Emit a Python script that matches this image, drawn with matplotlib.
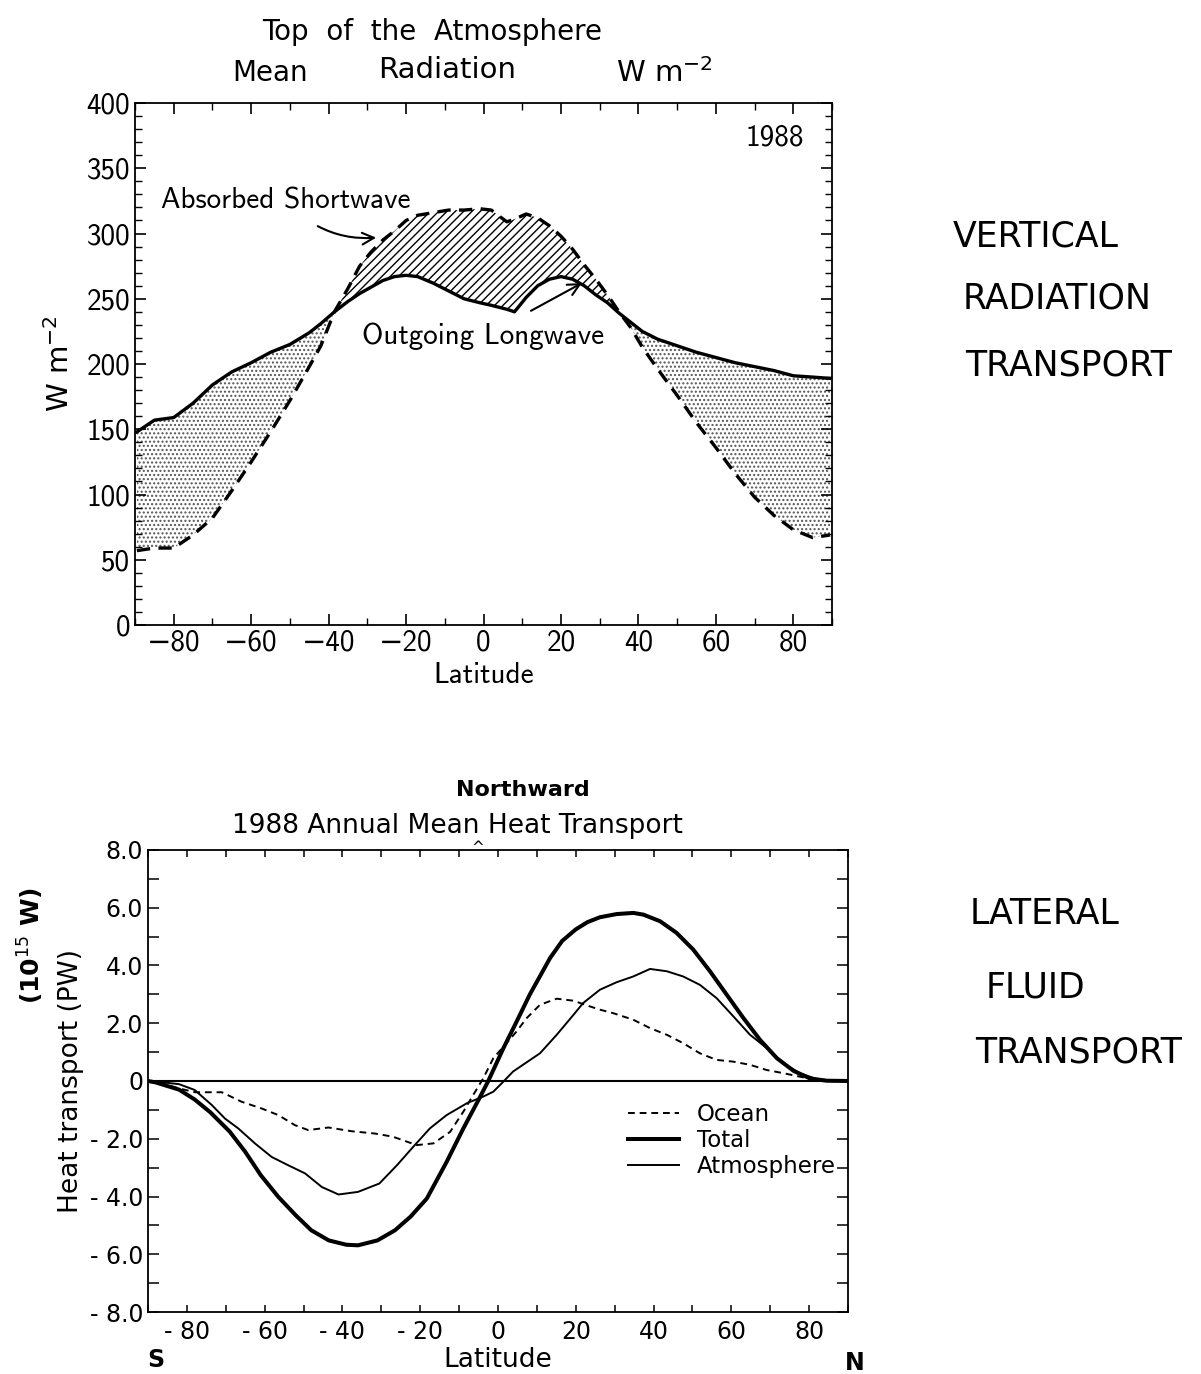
import numpy as np
import matplotlib.pyplot as plt
from matplotlib.ticker import MultipleLocator

# --- Top panel: TOA radiation (W m-2), 1988 ---
lat_top = [-89.5, -85, -80, -75, -70, -65, -60, -55, -50, -45, -42, -38.5, -35,
           -32, -29, -26, -23, -20, -17, -13, -9, -5, -1, 2, 6, 8, 11, 14, 17,
           20, 23, 26, 29, 32, 35, 38, 41, 45, 50, 55, 60, 65, 70, 75, 80, 85, 89.5]
olr = [148, 157, 159, 170, 184, 194, 201, 209, 215, 224, 231, 240, 248,
       254, 259, 264, 267, 268, 267, 262, 256, 250, 247, 245, 242, 240, 251, 260,
       265, 267, 265, 260, 253, 247, 239, 232, 225, 219, 214, 209, 205, 201, 198,
       195, 191, 190, 189]
asr = [57, 59, 59, 69, 82, 103, 125, 148, 172, 198, 214, 240, 258,
       275, 286, 295, 302, 310, 314, 316, 318, 318, 319, 318, 309, 311, 315, 312,
       306, 298, 288, 276, 265, 253, 240, 228, 213, 196, 176, 155, 136, 116, 98,
       84, 73, 67, 69]

# --- Bottom panel: northward heat transport (PW) ---
lat_total = [-90, -88, -82, -78, -74, -69, -65, -61, -56.5, -52, -48, -43.5, -39,
             -36, -31, -26.5, -22.5, -18.3, -13.2, -8.9, -4.6, -2.5, 1.4, 4.8, 8.2,
             13.4, 16.5, 20, 23, 26.2, 30.5, 34.8, 37.4, 41.7, 45.9, 50.2, 54.5,
             58.8, 63.1, 67.4, 71.7, 76, 80.2, 84.5, 90]
total = [0, -0.05, -0.3, -0.64, -1.08, -1.75, -2.45, -3.26, -4.01, -4.65, -5.17,
         -5.52, -5.67, -5.69, -5.52, -5.17, -4.7, -4.07, -2.80, -1.64, -0.55, 0,
         1.14, 2.06, 3.0, 4.26, 4.85, 5.25, 5.5, 5.67, 5.78, 5.82, 5.76, 5.53,
         5.13, 4.55, 3.80, 2.99, 2.18, 1.42, 0.79, 0.35, 0.09, 0.01, 0]

lat_atmos = [-90, -86, -82, -78, -73.6, -70.2, -66.8, -62.5, -58.2, -53.9, -49.6,
             -45.3, -41, -36, -30.5, -26, -21.8, -17.5, -13.2, -8, -3.8, -1.2, 1.4,
             3.9, 7.4, 10.8, 15.1, 19.4, 21.9, 26.2, 30.5, 34.8, 39.1, 43.4, 47.6,
             51.9, 56.2, 60.5, 64.8, 69.1, 73.4, 77.6, 81.9, 86, 90]
atmos = [0, -0.05, -0.11, -0.31, -0.83, -1.30, -1.64, -2.16, -2.63, -2.92, -3.20,
         -3.67, -3.93, -3.84, -3.55, -2.92, -2.28, -1.64, -1.18, -0.77, -0.54, -0.37,
         -0.02, 0.33, 0.65, 0.96, 1.60, 2.29, 2.70, 3.16, 3.42, 3.62, 3.88, 3.80,
         3.62, 3.33, 2.87, 2.24, 1.60, 1.14, 0.61, 0.27, 0.07, 0.01, 0]

lat_ocean = [-90, -86, -82.2, -77.9, -71, -65.9, -60.8, -56.5, -52.2, -48.8, -43.6,
             -37.6, -31.6, -27, -20.9, -16.6, -12.3, -8.9, -6.4, -3.8, -1.2, 2.2,
             4.8, 7.4, 10.8, 15.1, 19.4, 23.7, 26.2, 29.6, 34.8, 39.1, 43.4, 47.6,
             51.9, 56.2, 60.5, 64.8, 69.1, 73.4, 77.6, 81.9, 90]
ocean = [0, -0.1, -0.25, -0.39, -0.39, -0.72, -0.95, -1.18, -1.53, -1.70, -1.61,
         -1.74, -1.82, -1.93, -2.22, -2.16, -1.76, -1.06, -0.49, 0.09, 0.79, 1.31,
         1.72, 2.18, 2.64, 2.85, 2.78, 2.58, 2.47, 2.35, 2.12, 1.83, 1.60, 1.31,
         0.96, 0.73, 0.67, 0.56, 0.38, 0.27, 0.15, 0.03, 0]

fig = plt.figure(figsize=(12.01, 13.74), dpi=100)
cm = ['cmss10', 'DejaVu Sans']
hand = 'DejaVu Sans'

# ================= top panel =================
ax1 = fig.add_axes([0.1124, 0.5451, 0.5804, 0.3799])
lt = np.array(lat_top)
o = np.array(olr)
a = np.array(asr)
ax1.plot(lt, o, color='black', lw=2.4, solid_joinstyle='round')
ax1.plot(lt, a, color='black', lw=2.4, ls=(0, (4, 2.5)))
ax1.fill_between(lt, o, a, where=a >= o, interpolate=True, facecolor='none',
                 edgecolor='black', hatch='////', lw=0)
ax1.fill_between(lt, o, a, where=a <= o, interpolate=True, facecolor='none',
                 edgecolor='#555555', hatch='....', lw=0)
ax1.set_xlim(-90, 90)
ax1.set_ylim(0, 400)
ax1.xaxis.set_minor_locator(MultipleLocator(10))
ax1.yaxis.set_major_locator(MultipleLocator(50))
ax1.yaxis.set_minor_locator(MultipleLocator(10))
ax1.tick_params(which='both', direction='in', top=True, right=True, labelsize=21)
ax1.tick_params(which='major', length=8, width=1.2)
ax1.tick_params(which='minor', length=5, width=1.0)
ax1.set_xticks(np.arange(-80, 81, 20))
ax1.set_xticklabels(['\u221280', '\u221260', '\u221240', '\u221220', '0', '20', '40', '60', '80'],
                    family=cm, fontsize=21)
ax1.set_yticks(np.arange(0, 401, 50))
ax1.set_yticklabels([str(v) for v in range(0, 401, 50)], family=cm, fontsize=21)
ax1.set_xlabel('Latitude', family=cm, fontsize=21, labelpad=4)
ax1.set_ylabel('W m$^{-2}$', fontsize=21, labelpad=8)
for s in ax1.spines.values():
    s.set_linewidth(1.3)

ax1.text(0.918, 0.933, '1988', transform=ax1.transAxes, family=cm, fontsize=21,
         fontweight='bold', ha='center', va='center')
ax1.annotate('Absorbed Shortwave', xy=(-27, 297), xytext=(-51, 325),
             family=cm, fontsize=21, ha='center', va='center',
             arrowprops=dict(arrowstyle='->', color='black', lw=1.5,
                             connectionstyle='arc3,rad=0.25',
                             shrinkA=12, shrinkB=2))
ax1.annotate('Outgoing Longwave', xy=(26, 263), xytext=(0, 221),
             family=cm, fontsize=21, ha='center', va='center',
             arrowprops=dict(arrowstyle='->', color='black', lw=1.5,
                             shrinkA=14, shrinkB=2))

fig.text(0.36, 0.977, 'Top  of  the  Atmosphere', fontsize=20, family=hand,
         ha='center', va='center')
fig.text(0.225, 0.947, 'Mean', fontsize=20, family=hand, ha='center', va='center')
fig.text(0.372, 0.949, 'Radiation', fontsize=21, family='Liberation Sans Narrow',
         ha='center', va='center')
fig.text(0.553, 0.947, 'W m$^{-2}$', fontsize=21, ha='center', va='center')

fig.text(0.862, 0.828, 'VERTICAL', fontsize=25, family=hand, ha='center', va='center')
fig.text(0.88, 0.783, 'RADIATION', fontsize=25, family=hand, ha='center', va='center')
fig.text(0.89, 0.734, 'TRANSPORT', fontsize=25, family=hand, ha='center', va='center')

# ================= bottom panel =================
ax2 = fig.add_axes([0.1232, 0.0451, 0.5829, 0.3363])
ax2.plot(lat_ocean, ocean, color='black', lw=1.4, ls=(0, (3.5, 2.5)), label='Ocean')
ax2.plot(lat_total, total, color='black', lw=2.9, solid_joinstyle='round',
         label='Total')
ax2.plot(lat_atmos, atmos, color='black', lw=1.4, solid_joinstyle='round',
         label='Atmosphere')
ax2.axhline(0, color='black', lw=1.5)
ax2.set_xlim(-90, 90)
ax2.set_ylim(-8, 8)
ax2.set_xticks(np.arange(-80, 81, 20))
ax2.set_xticklabels(['- 80', '- 60', '- 40', '- 20', '0', '20', '40', '60', '80'],
                    fontsize=17)
ax2.xaxis.set_minor_locator(MultipleLocator(10))
ax2.set_yticks(np.arange(-8, 9, 2))
ax2.set_yticklabels(['- 8.0', '- 6.0', '- 4.0', '- 2.0', '0', '2.0', '4.0', '6.0', '8.0'],
                    fontsize=17)
ax2.yaxis.set_minor_locator(MultipleLocator(1))
ax2.tick_params(which='both', direction='in', top=True, right=True)
ax2.tick_params(axis='x', which='both', length=5, width=1.1, pad=6)
ax2.tick_params(axis='y', which='both', length=8, width=1.1)
ax2.set_xlabel('Latitude', fontsize=19, labelpad=2)
ax2.set_ylabel('Heat transport (PW)', fontsize=19, labelpad=4)
for s in ax2.spines.values():
    s.set_linewidth(1.3)

ax2.legend(loc='upper left', bbox_to_anchor=(0.67, 0.478), frameon=False,
           fontsize=16.5, handlelength=2.2, labelspacing=0.15, borderpad=0,
           handletextpad=0.8)

fig.text(0.435, 0.425, 'Northward', fontsize=16, family=hand, fontweight='bold',
         ha='center', va='center')
fig.text(0.381, 0.399, '1988 Annual Mean Heat Transport', fontsize=19,
         ha='center', va='center')
fig.text(0.398, 0.3883, '^', fontsize=11, ha='center', va='top')
fig.text(0.026, 0.312, '(10$^{15}$ W)', fontsize=18, family=hand, fontweight='bold',
         rotation=90, ha='center', va='center')
fig.text(0.13, 0.01, 'S', fontsize=17, family=hand, fontweight='bold',
         ha='center', va='center')
fig.text(0.712, 0.008, 'N', fontsize=17, family=hand, fontweight='bold',
         ha='center', va='center')

fig.text(0.87, 0.335, 'LATERAL', fontsize=25, family=hand, ha='center', va='center')
fig.text(0.862, 0.281, 'FLUID', fontsize=25, family=hand, ha='center', va='center')
fig.text(0.898, 0.234, 'TRANSPORT', fontsize=25, family=hand, ha='center', va='center')

fig.savefig('out.png', dpi=100)
